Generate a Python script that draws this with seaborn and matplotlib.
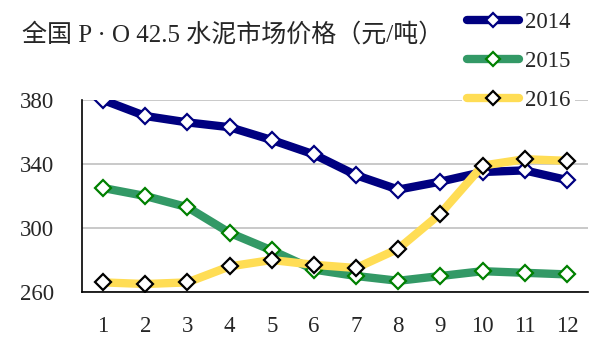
import matplotlib
matplotlib.use("Agg")
import matplotlib.pyplot as plt
import seaborn as sns
import pandas as pd

months = list(range(1, 13))
month_labels = [str(m) for m in months]
series_names = ["2014", "2015", "2016"]
v2014 = [380, 370, 366, 363, 355, 346, 333, 324, 329, 335, 336, 330]
v2015 = [325, 320, 313, 297, 286, 274, 270, 267, 270, 273, 272, 271]
v2016 = [266, 265, 266, 276, 280, 277, 275, 287, 309, 339, 343, 342]
yticks = [260, 300, 340, 380]
title = "全国 P · O 42.5 水泥市场价格（元/吨）"

line_colors = ["#000080", "#339966", "#FFDD55"]
edge_colors = ["#000080", "#008000", "#000000"]

sns.set_theme(style="white")
plt.rcParams["font.family"] = ["Liberation Serif", "Noto Sans CJK SC", "DejaVu Sans"]

fig = plt.figure(figsize=(6.06, 3.48), dpi=100)
ax = fig.add_axes([82/606, 1-292/348, (588-82)/606, (292-100)/348])

df = pd.DataFrame({"month": months * 3,
                   "price": v2014 + v2015 + v2016,
                   "year": [s for s in series_names for _ in months]})

for name, lc, ec in zip(series_names, line_colors, edge_colors):
    sub = df[df["year"] == name]
    sns.lineplot(data=sub, x="month", y="price", ax=ax, color=lc, lw=6,
                 marker="D", markersize=8, markerfacecolor="white",
                 markeredgecolor=ec, markeredgewidth=1.6, label=name,
                 solid_joinstyle="round", solid_capstyle="round", zorder=3)

ax.set_xlim(0.5, 12.5)
ax.set_ylim(260, 380)
ax.set_yticks(yticks)
ax.set_yticklabels([str(t) for t in yticks], fontsize=16.5)
ax.set_xticks(months)
ax.set_xticklabels(month_labels, fontsize=16.5)
ax.set_xticks([m - 0.5 for m in months] + [12.5], minor=True)
ax.tick_params(axis="x", which="major", length=0, pad=17)
ax.tick_params(axis="x", which="minor", direction="in", length=4, width=1, color="black")
ax.tick_params(axis="y", which="major", direction="in", length=4, width=1, color="black", pad=20)
ax.set_xlabel("")
ax.set_ylabel("")
ax.yaxis.grid(True, color="#C0C0C0", lw=1.2)
ax.set_axisbelow(True)
for s in ["top", "right"]:
    ax.spines[s].set_visible(False)
for s in ["left", "bottom"]:
    ax.spines[s].set_color("black")
    ax.spines[s].set_linewidth(1.2)

leg = ax.legend(loc="upper left", bbox_to_anchor=(462/606, 1 - 7/348), bbox_transform=fig.transFigure,
                frameon=True, fontsize=16.5, handlelength=2.3, handletextpad=0.25,
                labelspacing=0.8, borderpad=0.2, borderaxespad=0, markerscale=0.85)
leg.get_frame().set_facecolor("white")
leg.get_frame().set_edgecolor("none")
leg.get_frame().set_alpha(1)

fig.text(22/606, 1-35/348, title, fontsize=18, va="center", ha="left")

fig.savefig("out.png", dpi=100)
